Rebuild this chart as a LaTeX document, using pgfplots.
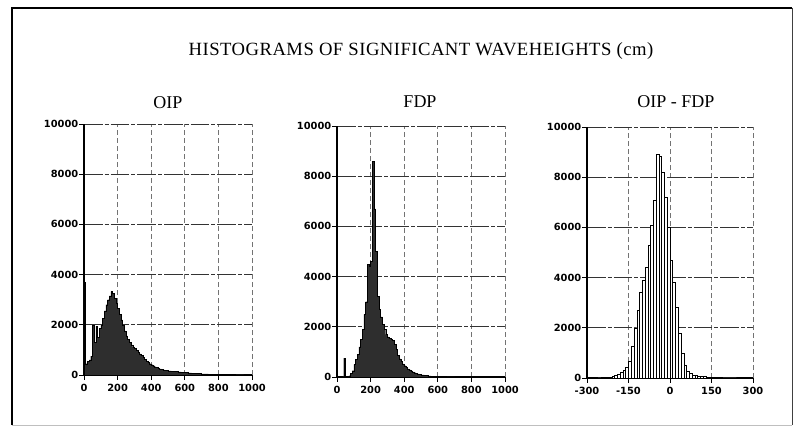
\documentclass[border=0pt]{standalone}
\usepackage{fontspec}
\setmainfont{Liberation Serif}
\newfontfamily\titlefont[LetterSpace=2.5]{Liberation Serif}
\newfontfamily\ticfont{DejaVu Sans}
\usepackage{pgfplots}
\pgfplotsset{compat=1.18}

\pgfplotsset{
  hist/.style={
    scale only axis,
    height=188.25pt,
    anchor=south west,
    axis lines*=left,
    axis line style={line width=0.9pt},
    tick align=outside,
    major tick length=3.5pt,
    tick style={black, line width=0.7pt},
    ymin=0, ymax=10000,
    ytick={0,2000,4000,6000,8000,10000},
    yticklabels={0,2000,4000,6000,8000,10000},
    scaled ticks=false,
    /pgf/number format/assume math mode=true,
    tick label style={font=\ticfont\bfseries\fontsize{7.4}{8}\selectfont},
    yticklabel style={inner xsep=0.6pt},
    xticklabel style={inner ysep=1.5pt, yshift=-1.5pt},
    xmajorgrids, ymajorgrids,
    x grid style={black!55, line width=0.5pt, dash pattern=on 4pt off 2pt},
    y grid style={black!80, line width=0.6pt, dash pattern=on 14pt off 1.5pt on 3pt off 1.5pt},
  },
}

\begin{document}
\begin{tikzpicture}
\useasboundingbox (0,0) rectangle (595.5pt,-321pt);

% OIP
\begin{axis}[hist, at={(63pt,-281.25pt)}, width=126pt,
  xmin=0, xmax=1000, xtick={0,200,400,600,800,1000},
  xticklabels={0,200,400,600,800,1000}]
\addplot[const plot, fill=black!82, draw=black, line width=0.3pt] coordinates {
(0,3700)(10,450)(20,550)(30,600)(40,750)(50,2000)(60,1300)(70,1950)(80,1500)(90,1850)
(100,2000)(110,2250)(120,2550)(130,2800)(140,3000)(150,3150)(160,3320)(170,3250)(180,3050)(190,2850)
(200,2650)(210,2420)(220,2200)(230,1980)(240,1760)(250,1560)(260,1420)(270,1300)(280,1200)(290,1120)
(300,1050)(310,970)(320,900)(330,840)(340,770)(350,690)(360,610)(370,550)(380,500)(390,450)
(400,410)(410,370)(420,330)(430,300)(440,270)(450,245)(460,225)(470,205)(480,190)(490,175)
(500,165)(520,150)(540,135)(560,120)(580,108)(600,95)(620,82)(640,72)(660,62)(680,54)
(700,46)(720,40)(740,35)(760,30)(780,26)(800,22)(850,15)(900,10)(950,5)(1000,0)
} \closedcycle;
\end{axis}

% FDP
\begin{axis}[hist, at={(252.75pt,-282.75pt)}, width=126pt,
  xmin=0, xmax=1000, xtick={0,200,400,600,800,1000},
  xticklabels={0,200,400,600,800,1000}]
\addplot[const plot, fill=black!82, draw=black, line width=0.3pt] coordinates {
(0,0)(40,750)(50,0)(70,50)(80,150)(90,250)
(100,500)(110,700)(120,900)(130,1200)(140,1500)(150,1900)(160,2500)(170,3000)(180,4500)(190,4400)
(200,4600)(210,8600)(220,6700)(230,5000)(240,3200)(250,2700)(260,2400)(270,2100)(280,1900)(290,1700)
(300,1600)(310,1550)(320,1500)(330,1450)(340,1300)(350,1100)(360,850)(370,720)(380,620)(390,520)
(400,450)(410,380)(420,320)(430,280)(440,240)(450,200)(460,170)(470,140)(480,120)(490,100)
(500,80)(520,60)(540,45)(560,35)(580,28)(600,20)(650,10)(700,0)(1000,0)
} \closedcycle;
\end{axis}

% OIP - FDP
\begin{axis}[hist, at={(440.25pt,-283.5pt)}, width=124.5pt,
  xmin=-300, xmax=300, xtick={-300,-150,0,150,300},
  xticklabels={-300,-150,0,150,300}]
\addplot[ybar interval, fill=white, draw=black, line width=0.4pt] coordinates {
(-260,5)(-250,10)(-240,20)(-230,30)(-220,45)(-210,70)(-200,100)(-190,150)(-180,220)(-170,300)
(-160,420)(-150,650)(-140,1250)(-130,2000)(-120,2700)(-110,3400)(-100,3900)(-90,4400)(-80,5300)(-70,6100)
(-60,7100)(-50,8900)(-40,8850)(-30,8200)(-20,7200)(-10,6000)(0,4700)(10,3800)(20,2800)(30,1800)
(40,1000)(50,520)(60,280)(70,170)(80,120)(90,95)(100,80)(110,65)(120,55)(130,45)
(140,35)(150,28)(160,22)(170,16)(180,12)(190,8)(200,5)(210,3)(220,2)(230,1)(240,0)
};
\end{axis}

\begin{scope}[x=0.75pt, y=-0.75pt]
  \draw[black, line width=1.1pt] (12,425) -- (12,8) -- (792,8);
  \draw[black!75, line width=0.7pt] (792,8) -- (792,425);
  \draw[black!25, line width=0.7pt] (12,425) -- (792,425);
  \node[font=\titlefont\fontsize{14}{16}\selectfont] at (421,51) {HISTOGRAMS OF SIGNIFICANT WAVEHEIGHTS (cm)};
  \node[font=\fontsize{13.5}{15}\selectfont] at (168,103) {OIP};
  \node[font=\fontsize{13.5}{15}\selectfont] at (420,102) {FDP};
  \node[font=\fontsize{13.5}{15}\selectfont] at (676,102) {OIP - FDP};
\end{scope}
\end{tikzpicture}
\end{document}
